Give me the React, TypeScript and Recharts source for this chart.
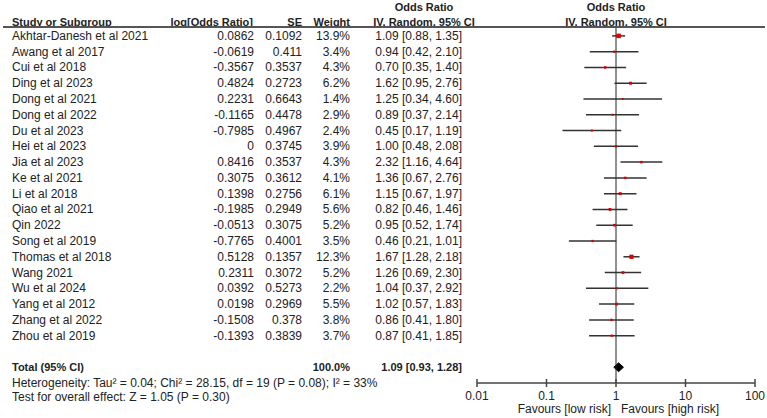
import React from "react";
import { ComposedChart, Scatter, ErrorBar, Area, XAxis, YAxis, ReferenceLine } from "recharts";

const STUDIES = [
  "Akhtar-Danesh et al 2021", "Awang et al 2017", "Cui et al 2018", "Ding et al 2023",
  "Dong et al 2021", "Dong et al 2022", "Du et al 2023", "Hei et al 2023", "Jia et al 2023",
  "Ke et al 2021", "Li et al 2018", "Qiao et al 2021", "Qin 2022", "Song et al 2019",
  "Thomas et al 2018", "Wang 2021", "Wu et al 2024", "Yang et al 2012", "Zhang et al 2022",
  "Zhou et al 2019",
];
const LOG_OR = [
  0.0862, -0.0619, -0.3567, 0.4824, 0.2231, -0.1165, -0.7985, 0, 0.8416, 0.3075,
  0.1398, -0.1985, -0.0513, -0.7765, 0.5128, 0.2311, 0.0392, 0.0198, -0.1508, -0.1393,
];
const SE = [
  0.1092, 0.411, 0.3537, 0.2723, 0.6643, 0.4478, 0.4967, 0.3745, 0.3537, 0.3612,
  0.2756, 0.2949, 0.3075, 0.4001, 0.1357, 0.3072, 0.5273, 0.2969, 0.378, 0.3839,
];
const WEIGHT = [13.9, 3.4, 4.3, 6.2, 1.4, 2.9, 2.4, 3.9, 4.3, 4.1, 6.1, 5.6, 5.2, 3.5, 12.3, 5.2, 2.2, 5.5, 3.8, 3.7];
const OR = [1.09, 0.94, 0.7, 1.62, 1.25, 0.89, 0.45, 1.0, 2.32, 1.36, 1.15, 0.82, 0.95, 0.46, 1.67, 1.26, 1.04, 1.02, 0.86, 0.87];
const CI_LOW = [0.88, 0.42, 0.35, 0.95, 0.34, 0.37, 0.17, 0.48, 1.16, 0.67, 0.67, 0.46, 0.52, 0.21, 1.28, 0.69, 0.37, 0.57, 0.41, 0.41];
const CI_HIGH = [1.35, 2.1, 1.4, 2.76, 4.6, 2.14, 1.19, 2.08, 4.64, 2.76, 1.97, 1.46, 1.74, 1.01, 2.18, 2.3, 2.92, 1.83, 1.8, 1.85];

const TOTAL_OR = 1.09;
const TOTAL_LOW = 0.93;
const TOTAL_HIGH = 1.28;
const TOTAL_WEIGHT = 100.0;
const HETEROGENEITY = "Heterogeneity: Tau\u00b2 = 0.04; Chi\u00b2 = 28.15, df = 19 (P = 0.08); I\u00b2 = 33%";
const OVERALL_EFFECT = "Test for overall effect: Z = 1.05 (P = 0.30)";

const X_TICKS = [0.01, 0.1, 1, 10, 100];
const FAVOURS_LEFT = "Favours [low risk]";
const FAVOURS_RIGHT = "Favours [high risk]";

const TOTAL_ROW = 21;
const DIAMOND_HALF = 0.28;

const FONT = "'Liberation Sans', Arial, sans-serif";
const INK = "#222";
const BODY_SIZE = 12;
const BOLD_SIZE = 11;

const studyPoints = STUDIES.map((name, i) => ({
  name,
  x: OR[i],
  y: i,
  w: WEIGHT[i],
  err: [OR[i] - CI_LOW[i], CI_HIGH[i] - OR[i]],
}));

// pooled estimate drawn as a filled range band -> diamond
const diamond = [
  { x: TOTAL_LOW, band: [TOTAL_ROW, TOTAL_ROW] },
  { x: TOTAL_OR, band: [TOTAL_ROW - DIAMOND_HALF, TOTAL_ROW + DIAMOND_HALF] },
  { x: TOTAL_HIGH, band: [TOTAL_ROW, TOTAL_ROW] },
];

const ciText = (o: number, l: number, h: number) => `${o.toFixed(2)} [${l.toFixed(2)}, ${h.toFixed(2)}]`;

function RowTick({ y, payload }: any) {
  const i = payload.value;
  if (i === TOTAL_ROW) {
    return (
      <g fontFamily={FONT} fill={INK}>
        <g fontSize={BOLD_SIZE} fontWeight="bold">
          <text x={12} y={y} dy={4}>Total (95% CI)</text>
          <text x={350} y={y} dy={4} textAnchor="end">{TOTAL_WEIGHT.toFixed(1)}%</text>
          <text x={462} y={y} dy={4} textAnchor="end">{ciText(TOTAL_OR, TOTAL_LOW, TOTAL_HIGH)}</text>
        </g>
        <g fontSize={BODY_SIZE}>
          <text x={12} y={y + 16} dy={4}>{HETEROGENEITY}</text>
          <text x={12} y={y + 30} dy={4}>{OVERALL_EFFECT}</text>
        </g>
      </g>
    );
  }
  return (
    <g fontFamily={FONT} fontSize={BODY_SIZE} fill={INK}>
      <text x={12} y={y} dy={4}>{STUDIES[i]}</text>
      <text x={254} y={y} dy={4} textAnchor="end">{String(LOG_OR[i])}</text>
      <text x={302} y={y} dy={4} textAnchor="end">{String(SE[i])}</text>
      <text x={350} y={y} dy={4} textAnchor="end">{WEIGHT[i].toFixed(1)}%</text>
      <text x={462} y={y} dy={4} textAnchor="end">{ciText(OR[i], CI_LOW[i], CI_HIGH[i])}</text>
    </g>
  );
}

function AxisTick({ x, y, payload }: any) {
  return (
    <g fontFamily={FONT} fontSize={BODY_SIZE} fill={INK}>
      <line x1={x} x2={x} y1={y - 4} y2={y + 4} stroke="#444" strokeWidth={1.5} />
      <text x={x} y={y + 13} dy={4} textAnchor="middle">{String(payload.value)}</text>
      {payload.value === 1 && (
        <>
          <text x={x - 5} y={y + 26} dy={4} textAnchor="end">{FAVOURS_LEFT}</text>
          <text x={x + 5} y={y + 26} dy={4}>{FAVOURS_RIGHT}</text>
        </>
      )}
    </g>
  );
}

function StudyMark({ cx, cy, payload }: any) {
  const s = Math.max(2, 1.2 * Math.sqrt(payload.w));
  return <rect x={cx - s / 2} y={cy - s / 2} width={s} height={s} fill="#dd0000" />;
}

const headStyle: React.CSSProperties = {
  position: "absolute",
  fontFamily: FONT,
  fontSize: BOLD_SIZE,
  fontWeight: "bold",
  lineHeight: "14px",
  color: INK,
  whiteSpace: "nowrap",
};

export default function App() {
  return (
    <div style={{ position: "absolute", left: 0, top: 0, width: 767, height: 418, background: "#fff" }}>
      <div style={{ ...headStyle, left: 12, top: 15 }}>Study or Subgroup</div>
      <div style={{ ...headStyle, right: 767 - 253, top: 15 }}>log[Odds Ratio]</div>
      <div style={{ ...headStyle, right: 767 - 302, top: 15 }}>SE</div>
      <div style={{ ...headStyle, right: 767 - 350, top: 15 }}>Weight</div>
      <div style={{ ...headStyle, left: 324, width: 200, top: 0, textAlign: "center" }}>Odds Ratio</div>
      <div style={{ ...headStyle, left: 324, width: 200, top: 15, textAlign: "center" }}>IV, Random, 95% CI</div>
      <div style={{ ...headStyle, left: 516, width: 200, top: 0, textAlign: "center" }}>Odds Ratio</div>
      <div style={{ ...headStyle, left: 516, width: 200, top: 15, textAlign: "center" }}>IV, Random, 95% CI</div>
      <div style={{ position: "absolute", left: 3, width: 762, top: 26, height: 2, background: "#555" }} />
      <div style={{ position: "absolute", left: 0, top: 0 }}>
        <ComposedChart width={767} height={418} margin={{ top: 28, right: 12, bottom: 0, left: 0 }}>
          <XAxis
            dataKey="x"
            type="number"
            scale="log"
            domain={[0.01, 100]}
            ticks={X_TICKS}
            allowDataOverflow
            height={35}
            tickSize={0}
            tickMargin={0}
            tickLine={false}
            axisLine={{ stroke: "#444", strokeWidth: 1.5 }}
            tick={<AxisTick />}
            interval={0}
          />
          <YAxis
            dataKey="y"
            type="number"
            domain={[-0.5, 22]}
            reversed
            allowDataOverflow
            ticks={[...STUDIES.map((_, i) => i), TOTAL_ROW]}
            interval={0}
            width={477}
            tickSize={0}
            tickMargin={0}
            tickLine={false}
            axisLine={false}
            tick={<RowTick />}
          />
          <ReferenceLine x={1} stroke={INK} strokeWidth={1} ifOverflow="extendDomain" />
          <Scatter data={studyPoints} shape={<StudyMark />} isAnimationActive={false}>
            <ErrorBar dataKey="err" direction="x" width={0} stroke="#333" strokeWidth={1.5} isAnimationActive={false} />
          </Scatter>
          <Area
            data={diamond}
            dataKey="band"
            type="linear"
            fill="#000"
            fillOpacity={1}
            stroke="#000"
            strokeWidth={1}
            isAnimationActive={false}
            dot={false}
            activeDot={false}
          />
        </ComposedChart>
      </div>
    </div>
  );
}
